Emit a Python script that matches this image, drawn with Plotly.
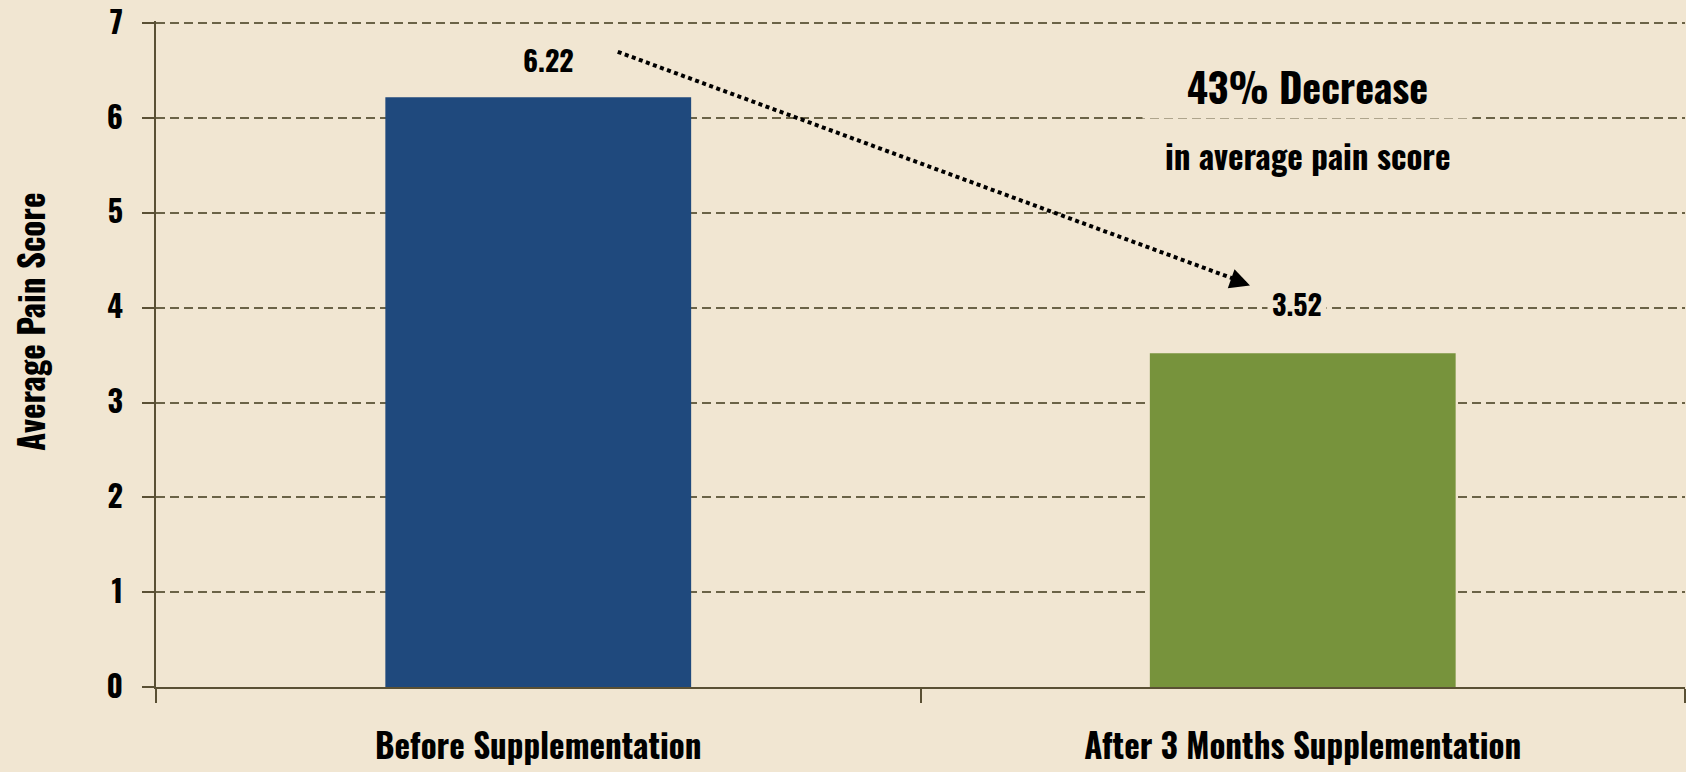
import plotly.graph_objects as go

categories = ["Before Supplementation", "After 3 Months Supplementation"]
pain_scores = [6.22, 3.52]
bar_colors = ["#1F497D", "#77933C"]
value_labels = ["6.22", "3.52"]
y_ticks = [0, 1, 2, 3, 4, 5, 6, 7]
headline = "43% Decrease"
subline = "in average pain score"
y_title = "Average Pain Score"

# arrow from start to tip (category index units, pain score units)
arrow_start = (0.104, 6.70)
arrow_tip = (0.925, 4.26)

BG = "#F1E6D2"
AXIS = "#5A5034"
GRID = "#6B6347"
FONT = "Oswald, Roboto Condensed, DejaVu Sans Condensed, sans-serif"

fig = go.Figure()
fig.add_trace(go.Bar(
    x=categories, y=pain_scores, marker=dict(color=bar_colors, line=dict(width=0)),
    width=0.4, hoverinfo="skip",
))

fig.update_layout(
    width=1686, height=772,
    margin=dict(l=156, r=1, t=21, b=85),
    paper_bgcolor=BG, plot_bgcolor=BG,
    showlegend=False,
    font=dict(family=FONT, color="#000000"),
    xaxis=dict(
        type="category", range=[-0.5, 1.5], tickson="boundaries", automargin=False,
        ticks="outside", ticklen=14, tickwidth=2, tickcolor=AXIS,
        showline=True, linecolor=AXIS, linewidth=2, showgrid=False,
        tickfont=dict(family=FONT, size=33, color="#000000", weight="bold"),
        ticklabelstandoff=30,
    ),
    yaxis=dict(
        range=[0, 7.025], tickvals=y_ticks, ticks="outside", ticklen=12,
        tickwidth=2, tickcolor=AXIS, showline=True, linecolor=AXIS, linewidth=2,
        showgrid=True, gridcolor=GRID, gridwidth=1.5, griddash="9px,5px",
        zeroline=False, ticklabeloverflow="allow", automargin=False,
        tickfont=dict(family=FONT, size=30, color="#000000", weight="bold"),
        ticklabelstandoff=13,
    ),
)

# value labels
label_shift = [38, 50]
for cat, val, txt, ys in zip(categories, pain_scores, value_labels, label_shift):
    fig.add_annotation(
        x=cat, y=val, text=txt, showarrow=False, yshift=ys,
        xshift=10 if val > 5 else -6,
        font=dict(family=FONT, size=28, color="#000000", weight="bold"),
        bgcolor=BG, borderpad=4,
    )

# dotted arrow line
fig.add_shape(
    type="line", xref="x", yref="y",
    x0=arrow_start[0], y0=arrow_start[1], x1=arrow_tip[0], y1=arrow_tip[1],
    line=dict(color="#000000", width=4, dash="4px,3.5px"),
)
# arrow head
fig.add_annotation(
    x=arrow_tip[0] + 0.006, y=arrow_tip[1] - 0.025, xref="x", yref="y",
    text="", showarrow=True, ax=-14, ay=-5,
    arrowhead=2, arrowsize=1, arrowwidth=4, arrowcolor="#000000", standoff=0,
)

# headline
fig.add_annotation(
    x=1.006, y=6.34, xref="x", yref="y", text=headline, showarrow=False,
    font=dict(family=FONT, size=40, color="#000000", weight="bold"),
    bgcolor=BG, width=329, height=64, borderpad=0,
)
fig.add_annotation(
    x=1.006, y=5.61, xref="x", yref="y", text=subline, showarrow=False,
    font=dict(family=FONT, size=33, color="#000000", weight="bold"),
)

# y title
fig.add_annotation(
    xref="paper", yref="paper", x=-126 / 1529, y=0.548, text=y_title,
    textangle=-90, showarrow=False, xanchor="center", yanchor="middle",
    font=dict(family=FONT, size=33, color="#000000", weight="bold"),
)

fig.write_html("out.html", config={"displayModeBar": False},
               post_script="document.body.style.margin='0';")
